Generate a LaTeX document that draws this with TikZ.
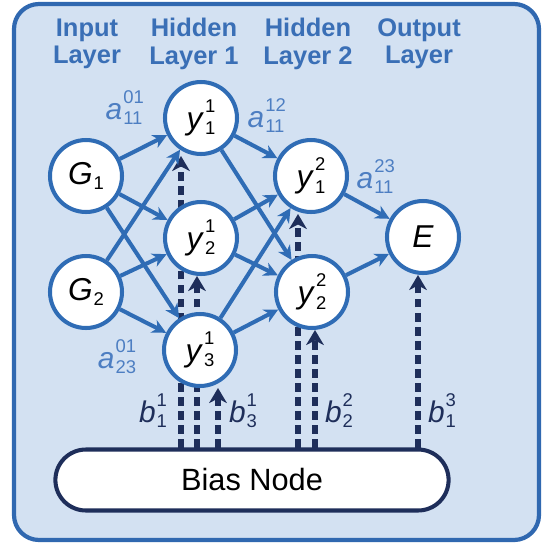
\documentclass[tikz,border=0pt]{standalone}
\usepackage{fontspec}
\setmainfont{Liberation Sans}
\usepackage{tikz}
\usetikzlibrary{arrows.meta, positioning, shapes.misc}

\definecolor{panelfill}{HTML}{D3E1F2}
\definecolor{panelline}{HTML}{3068B0}
\definecolor{netblue}{HTML}{2F6CB5}
\definecolor{headblue}{HTML}{3A6FB6}
\definecolor{wblue}{HTML}{4D7EC2}
\definecolor{navy}{HTML}{1E2E5A}

% letter with stacked upper and lower index
\newcommand{\ixs}[3]{\textit{#1}\kern0.6pt\rlap{\raisebox{0.52em}{\fontsize{10.5}{11}\selectfont #2}}\raisebox{-0.18em}{\fontsize{10.5}{11}\selectfont #3}}

\pgfdeclarelayer{panel}
\pgfdeclarelayer{links}
\pgfsetlayers{panel,links,main}

\begin{document}
\begin{tikzpicture}[x=0.02cm, y=-0.02cm,
    unit/.style={circle, draw=netblue, line width=2.3pt, fill=white,
        minimum size=1.44cm, inner sep=0pt, font=\fontsize{18}{20}\selectfont},
    layerhead/.style={align=center, text=headblue,
        font=\fontsize{14.5}{15.5}\selectfont\bfseries},
    wlabel/.style={text=wblue, inner sep=0pt, font=\fontsize{17}{19}\selectfont},
    blabel/.style={text=navy, inner sep=0pt, font=\fontsize{17}{19}\selectfont},
    link/.style={draw=netblue, line width=2.3pt,
        -{Stealth[length=8pt, width=8pt, inset=2.5pt]}},
    biaslink/.style={draw=navy, line width=3.2pt, dash pattern=on 5pt off 3pt,
        -{Stealth[length=8.5pt, width=10pt, inset=2.5pt]}}
]
    \useasboundingbox (0,0) rectangle (542,545);

    \begin{pgfonlayer}{panel}
        \draw[draw=panelline, fill=panelfill, line width=2.4pt, rounded corners=0.5cm]
            (14,4) rectangle (539,540);
    \end{pgfonlayer}

    % layer titles
    \node[layerhead] (hin) at (87,44) {Input\\Layer};
    \node[layerhead] (hh1) at (194,44) {Hidden\\Layer 1};
    \node[layerhead] (hh2) at (308,44) {Hidden\\Layer 2};
    \node[layerhead] (hout) at (419,44) {Output\\Layer};

    % units
    \node[unit] (g1) at (86,176) {\ixs{G}{}{1}};
    \node[unit] (g2) at (86,292) {\ixs{G}{}{2}};
    \node[unit] (y11) at (201,118) {\ixs{y}{1}{1}};
    \node[unit] (y21) at (201,238) {\ixs{y}{1}{2}};
    \node[unit] (y31) at (200,350) {\ixs{y}{1}{3}};
    \node[unit] (y12) at (311,176) {\ixs{y}{2}{1}};
    \node[unit] (y22) at (312,292) {\ixs{y}{2}{2}};
    \node[unit] (e) at (423,237) {\textit{E}};

    \node[
        rounded rectangle,
        draw=navy,
        line width=2.3pt,
        fill=white,
        minimum width=8.1cm,
        minimum height=1.22cm,
        font=\fontsize{17.5}{19}\selectfont
    ] (bias) at (252,480) {Bias Node};

    % weights
    \draw[link] (g1) -- (y11);
    \draw[link] (g1) -- (y21);
    \draw[link] (g1) -- (y31);
    \draw[link] (g2) -- (y11);
    \draw[link] (g2) -- (y21);
    \draw[link] (g2) -- (y31);
    \draw[link] (y11) -- (y12);
    \draw[link] (y11) -- (y22);
    \draw[link] (y21) -- (y12);
    \draw[link] (y21) -- (y22);
    \draw[link] (y31) -- (y12);
    \draw[link] (y31) -- (y22);
    \draw[link] (y12) -- (e);
    \draw[link] (y22) -- (e);

    % bias inputs
    \coordinate (s11) at (181,448);
    \coordinate (s21) at (197,448);
    \coordinate (s31) at (218,448);
    \coordinate (s12) at (298,448);
    \coordinate (s22) at (315,448);
    \coordinate (s13) at (418,448);
    \begin{pgfonlayer}{links}
        \draw[biaslink] (s11) -- (s11 |- y11.south);
        \draw[biaslink] (s21) -- (s21 |- y21.south);
        \draw[biaslink] (s31) -- (s31 |- y31.south);
        \draw[biaslink] (s12) -- (s12 |- y12.south);
        \draw[biaslink] (s22) -- (s22 |- y22.south);
        \draw[biaslink] (s13) -- (s13 |- e.south);
    \end{pgfonlayer}

    \node[wlabel] (w1) at (124,108) {\ixs{a}{01}{11}};
    \node[wlabel] (w2) at (266,116) {\ixs{a}{12}{11}};
    \node[wlabel] (w3) at (375,177) {\ixs{a}{23}{11}};
    \node[wlabel] (w4) at (117,357) {\ixs{a}{01}{23}};

    \node[blabel] (c1) at (153,411) {\ixs{b}{1}{1}};
    \node[blabel] (c2) at (243,411) {\ixs{b}{1}{3}};
    \node[blabel] (c3) at (339,411) {\ixs{b}{2}{2}};
    \node[blabel] (c4) at (442,411) {\ixs{b}{3}{1}};
\end{tikzpicture}
\end{document}
